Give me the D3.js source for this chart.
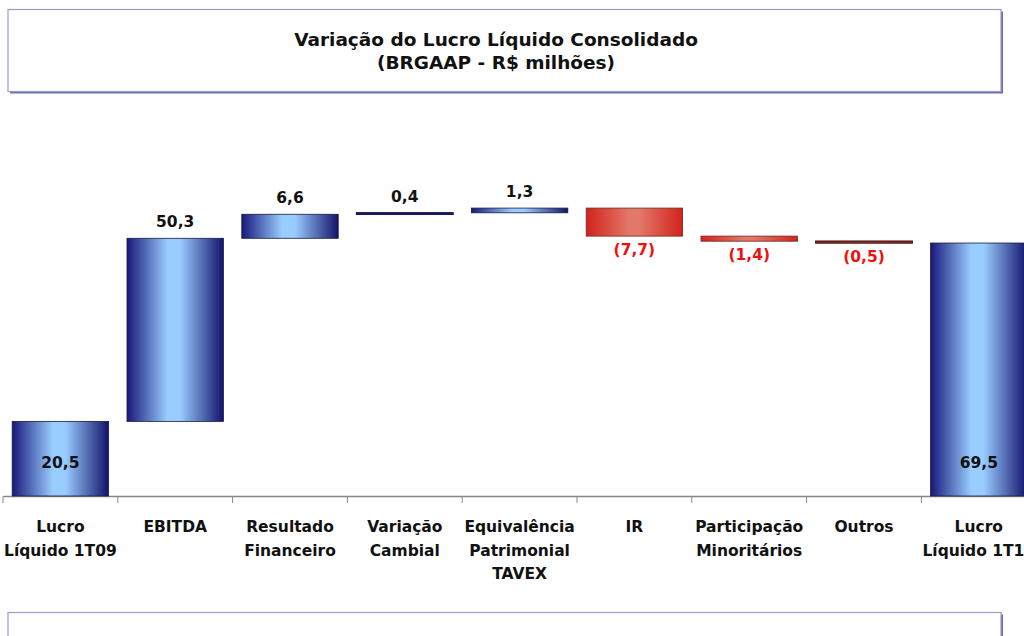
<!DOCTYPE html>
<html>
<head>
<meta charset="utf-8">
<script src="https://cdn.jsdelivr.net/npm/d3@7"></script>
<style>
  body { margin: 0; background: #fff; }
  text { font-family: "DejaVu Sans", sans-serif; font-weight: bold; }
</style>
</head>
<body>
<script>

  var categories = [
    ["Lucro", "Líquido 1T09"],
    ["EBITDA"],
    ["Resultado", "Financeiro"],
    ["Variação", "Cambial"],
    ["Equivalência", "Patrimonial", "TAVEX"],
    ["IR"],
    ["Participação", "Minoritários"],
    ["Outros"],
    ["Lucro", "Líquido 1T10"]
  ];
  var values = [20.5, 50.3, 6.6, 0.4, 1.3, -7.7, -1.4, -0.5, 69.5];
  var isTotal = [true, false, false, false, false, false, false, false, true];
  var valueLabels = ["20,5", "50,3", "6,6", "0,4", "1,3", "(7,7)", "(1,4)", "(0,5)", "69,5"];
  var titleLines = ["Variação do Lucro Líquido Consolidado", "(BRGAAP - R$ milhões)"];

  var width = 1024, height = 636;

  // running totals for the waterfall
  var run = 0;
  var bars = values.map(function(v, i) {
    var b;
    if (isTotal[i]) { b = { y0: 0, y1: v }; run = v; }
    else { b = { y0: run, y1: run + v }; run += v; }
    b.v = v; b.i = i; b.total = isTotal[i];
    return b;
  });

  var svg = d3.select("body").append("svg")
      .attr("width", width)
      .attr("height", height);

  var defs = svg.append("defs");
  var blue = defs.append("linearGradient").attr("id", "blue");
  [[0, "#18187a"], [0.42, "#99ccff"], [0.55, "#99ccff"], [1, "#12126a"]].forEach(function(s) {
    blue.append("stop").attr("offset", s[0]).attr("stop-color", s[1]);
  });
  var red = defs.append("linearGradient").attr("id", "red");
  [[0, "#d2231b"], [0.45, "#e2786a"], [0.55, "#e2786a"], [1, "#d2231b"]].forEach(function(s) {
    red.append("stop").attr("offset", s[0]).attr("stop-color", s[1]);
  });

  // boxes
  function box(y, h) {
    svg.append("rect").attr("x", 10).attr("y", y + 2).attr("width", 993).attr("height", h)
      .attr("fill", "#6c6cae");
    svg.append("rect").attr("x", 8).attr("y", y).attr("width", 993).attr("height", h)
      .attr("fill", "#fff").attr("stroke", "#9a9acc").attr("stroke-width", 1.2);
  }
  box(9.5, 82);
  box(612.5, 40);

  svg.selectAll(".title").data(titleLines).enter().append("text")
    .attr("x", 496).attr("y", function(d, i) { return 46 + i * 23; })
    .attr("text-anchor", "middle")
    .style("font-size", "18.5px")
    .attr("fill", "#111")
    .text(function(d) { return d; });

  var x = d3.scaleBand()
    .domain(d3.range(categories.length))
    .range([3, 3 + 9 * 114.8])
    .paddingInner(0.16).paddingOuter(0.08);

  var y = d3.scaleLinear().domain([0, 80]).range([496, 204.8]);

  // axis
  var axis = svg.append("g").attr("transform", "translate(0,496)")
    .call(d3.axisBottom(x).tickSize(0).tickFormat(""));
  axis.select(".domain").attr("stroke", "#888").attr("stroke-width", 1.5);
  var step = x.step();
  svg.append("g").selectAll("line").data(d3.range(categories.length + 1)).enter().append("line")
    .attr("x1", function(d) { return 3 + d * step; })
    .attr("x2", function(d) { return 3 + d * step; })
    .attr("y1", 496).attr("y2", 503)
    .attr("stroke", "#888").attr("stroke-width", 1);

  svg.append("g").selectAll("rect").data(bars).enter().append("rect")
    .attr("x", function(d) { return x(d.i); })
    .attr("width", x.bandwidth())
    .attr("y", function(d) { return y(Math.max(d.y0, d.y1)); })
    .attr("height", function(d) { return Math.max(1, Math.abs(y(d.y0) - y(d.y1))); })
    .attr("fill", function(d) { return d.v < 0 ? "url(#red)" : "url(#blue)"; })
    .attr("stroke", function(d) {
      if (d.i === 7) return "#5a1a14";
      if (d.i === 3) return "#1a1a5a";
      return d.v < 0 ? "#6a2a20" : "#1a1a40";
    })
    .attr("stroke-width", function(d) { return Math.abs(d.v) < 0.6 ? 1.5 : 0.8; });

  svg.append("g").selectAll("text").data(bars).enter().append("text")
    .attr("x", function(d) { return x(d.i) + x.bandwidth() / 2; })
    .attr("y", function(d) {
      if (d.total) return y(0) - 28;
      if (d.v < 0) return y(d.y1) + 19;
      return y(d.y1) - 11;
    })
    .attr("text-anchor", "middle")
    .style("font-size", "15.5px")
    .attr("fill", function(d) { return d.v < 0 ? "#ee1111" : "#111"; })
    .text(function(d) { return valueLabels[d.i]; });

  var cat = svg.append("g").selectAll("text").data(categories).enter().append("text")
    .attr("x", function(d, i) { return x(i) + x.bandwidth() / 2; })
    .attr("y", 532)
    .attr("text-anchor", "middle")
    .style("font-size", "15.5px")
    .attr("fill", "#111");
  cat.selectAll("tspan").data(function(d) { return d; }).enter().append("tspan")
    .attr("x", function() { return d3.select(this.parentNode).attr("x"); })
    .attr("dy", function(d, i) { return i === 0 ? 0 : 23.5; })
    .text(function(d) { return d; });

</script>
</body>
</html>
